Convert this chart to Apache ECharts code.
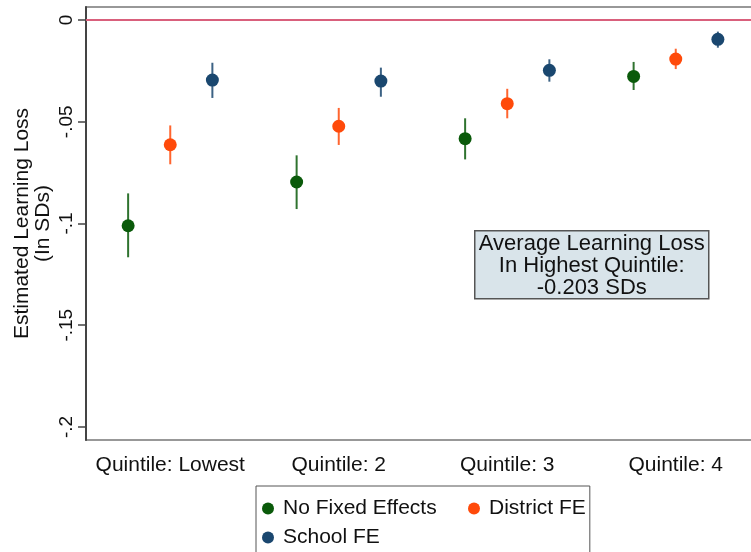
<!DOCTYPE html>
<html>
<head>
<meta charset="utf-8">
<title>Estimated Learning Loss by Quintile</title>
<script src="https://cdn.jsdelivr.net/npm/echarts@6/dist/echarts.min.js"></script>
<style>
  html, body { margin: 0; padding: 0; background: #fff; }
  #chart { width: 751px; height: 552px; }
</style>
</head>
<body>
<div id="chart"></div>
<script>
(function () {
  'use strict';

  // ==================== 数据 ====================

  var categories = ['Quintile: Lowest', 'Quintile: 2', 'Quintile: 3', 'Quintile: 4'];
  var seriesNames = ['No Fixed Effects', 'District FE', 'School FE'];

  // 点估计 + 置信区间（下限 / 上限）
  var noFeEst = [-0.1011, -0.0796, -0.0583, -0.0277];
  var noFeLow = [-0.1166, -0.0929, -0.0685, -0.0344];
  var noFeHigh = [-0.0852, -0.0665, -0.0483, -0.0206];

  var districtEst = [-0.0613, -0.0522, -0.0411, -0.0192];
  var districtLow = [-0.0709, -0.0614, -0.0483, -0.0241];
  var districtHigh = [-0.0518, -0.0432, -0.0338, -0.0141];

  var schoolEst = [-0.0295, -0.0300, -0.0247, -0.0095];
  var schoolLow = [-0.0383, -0.0377, -0.0303, -0.0136];
  var schoolHigh = [-0.0210, -0.0234, -0.0193, -0.0057];

  var yTicks = [0, -0.05, -0.1, -0.15, -0.2];
  var yTickLabels = ['0', '-.05', '-.1', '-.15', '-.2'];

  var noteLines = ['Average Learning Loss', 'In Highest Quintile:', '-0.203 SDs'];

  // ==================== 样式 ====================

  var FONT = '"Liberation Sans", Arial, sans-serif';
  var INK = '#111';
  var AXIS = '#444';
  var colors = ['#0a5a0a', '#ff4a0a', '#1a476f'];
  var shifts = [-0.25, 0, 0.25];   // 组内横向偏移（按类目带宽比例）

  function rows(est, low, high) {
    return est.map(function (v, i) { return [i, v, low[i], high[i]]; });
  }

  /** 误差线 + 圆点 */
  function makeRender(shift) {
    return function (params, api) {
      var c = api.value(0);
      var p = api.coord([c, api.value(1)]);
      var lo = api.coord([c, api.value(2)]);
      var hi = api.coord([c, api.value(3)]);
      var x = p[0] + api.size([1, 0])[0] * shift;
      var color = api.visual('color');
      return {
        type: 'group',
        children: [
          { type: 'line', shape: { x1: x, y1: lo[1], x2: x, y2: hi[1] },
            style: { stroke: color, lineWidth: 2, opacity: 0.85 } },
          { type: 'circle', shape: { cx: x, cy: p[1], r: 6.5 },
            style: { fill: color } }
        ]
      };
    };
  }

  function tickLabel(v) {
    var best = 0;
    for (var i = 1; i < yTicks.length; i++) {
      if (Math.abs(yTicks[i] - v) < Math.abs(yTicks[best] - v)) best = i;
    }
    return yTickLabels[best];
  }

  var data = [
    rows(noFeEst, noFeLow, noFeHigh),
    rows(districtEst, districtLow, districtHigh),
    rows(schoolEst, schoolLow, schoolHigh)
  ];

  var series = seriesNames.map(function (name, k) {
    var s = {
      name: name,
      type: 'custom',
      renderItem: makeRender(shifts[k]),
      itemStyle: { color: colors[k] },
      encode: { x: 0, y: [1, 2, 3] },
      data: data[k],
      z: 3
    };
    if (k === 0) {
      s.markLine = {
        silent: true,
        symbol: ['none', 'none'],
        label: { show: false },
        lineStyle: { color: '#d9607c', width: 2, type: 'solid' },
        data: [{ yAxis: 0 }],
        z: 1
      };
    }
    return s;
  });

  // ==================== 图表 ====================

  var chart = echarts.init(document.getElementById('chart'), null, { renderer: 'canvas' });

  chart.setOption({
    animation: false,
    backgroundColor: '#fff',
    textStyle: { fontFamily: FONT },
    grid: {
      left: 86, top: 7, width: 674, height: 433,
      outerBoundsMode: 'none',
      containLabel: false,
      show: true, borderColor: '#777', borderWidth: 1.5
    },
    xAxis: {
      type: 'category',
      data: categories,
      boundaryGap: true,
      axisLine: { lineStyle: { color: AXIS, width: 2 } },
      axisTick: { alignWithLabel: true, length: 8, lineStyle: { color: AXIS, width: 1.5 } },
      axisLabel: { interval: 0, color: INK, fontSize: 21, fontFamily: FONT, margin: 15 },
      splitLine: { show: false }
    },
    yAxis: {
      type: 'value',
      min: -0.2064,
      max: 0.0064,
      name: 'Estimated Learning Loss\n(In SDs)',
      nameLocation: 'middle',
      nameRotate: 90,
      nameGap: 32,
      nameMoveOverlap: false,
      nameTextStyle: { color: INK, fontSize: 21, lineHeight: 21, fontFamily: FONT },
      axisLine: { show: true, lineStyle: { color: AXIS, width: 2 } },
      axisTick: { show: true, length: 8, customValues: yTicks, lineStyle: { color: AXIS, width: 1.5 } },
      axisLabel: {
        customValues: yTicks,
        rotate: 90,
        margin: 10,
        color: INK, fontSize: 19, fontFamily: FONT,
        formatter: tickLabel
      },
      splitLine: { show: false }
    },
    legend: {
      left: 256,
      top: 486,
      width: 350,
      orient: 'horizontal',
      padding: [12, 4, 30, 6],
      itemGap: 8,
      itemWidth: 20,
      itemHeight: 12,
      icon: 'circle',
      borderColor: '#555',
      borderWidth: 1,
      textStyle: { color: INK, fontSize: 21, lineHeight: 21, fontFamily: FONT },
      data: [
        { name: seriesNames[0], textStyle: { width: 177 } },
        { name: seriesNames[1] },
        { name: seriesNames[2] }
      ]
    },
    graphic: [{
      type: 'group',
      left: 474,
      top: 230,
      z: 10,
      children: [
        {
          type: 'rect',
          shape: { x: 0, y: 0, width: 234, height: 68 },
          style: { fill: '#d9e4ea', stroke: '#555', lineWidth: 1.5 }
        },
        {
          type: 'text',
          x: 117,
          y: 35,
          style: {
            text: noteLines.join('\n'),
            font: '22px ' + FONT,
            fill: INK,
            lineHeight: 22,
            align: 'center',
            verticalAlign: 'middle'
          }
        }
      ]
    }],
    series: series
  });

  window.addEventListener('resize', function () { chart.resize(); });
})();
</script>
</body>
</html>
